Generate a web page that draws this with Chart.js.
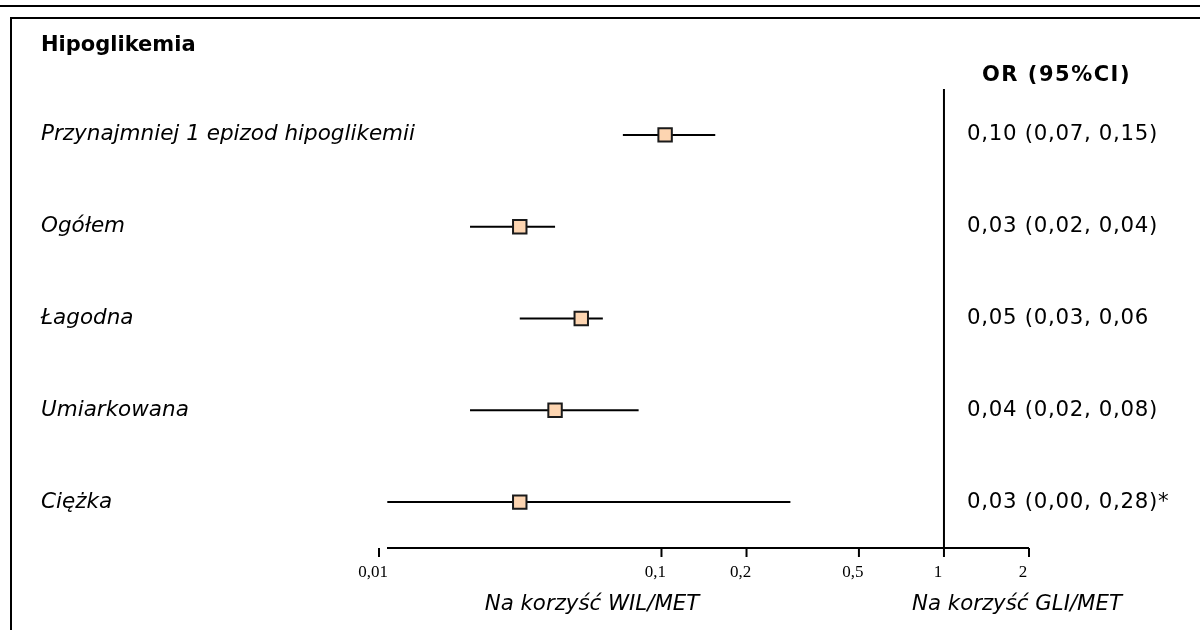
<!DOCTYPE html>
<html lang="pl">
<head>
<meta charset="utf-8"/>
<title>Hipoglikemia</title>
<script src="https://cdn.jsdelivr.net/npm/chart.js@4.4.0/dist/chart.umd.min.js"></script>
<style>
    * { margin: 0; padding: 0; box-sizing: border-box; }
    body { background: #FFFFFF; width: 1200px; height: 630px; overflow: hidden; }
    #forest { display: block; }
</style>
</head>
<body>
<canvas id="forest" width="1200" height="630"></canvas>
<script>
    // dane
    const categories = [
        "Przynajmniej 1 epizod hipoglikemii",
        "Ogółem",
        "Łagodna",
        "Umiarkowana",
        "Ciężka"
    ];
    const oddsRatio = [0.103, 0.0315, 0.052, 0.042, 0.0315];
    const lowerCI = [0.073, 0.021, 0.0315, 0.021, 0.0107];
    const upperCI = [0.155, 0.042, 0.062, 0.083, 0.286];
    const orLabels = [
        "0,10 (0,07, 0,15)",
        "0,03 (0,02, 0,04)",
        "0,05 (0,03, 0,06",
        "0,04 (0,02, 0,08)",
        "0,03 (0,00, 0,28)*"
    ];
    const tickValues = [0.01, 0.1, 0.2, 0.5, 1, 2];
    const tickLabels = ["0,01", "0,1", "0,2", "0,5", "1", "2"];

    const sansFont = "'DejaVu Sans', Verdana, sans-serif";
    const serifFont = "'Liberation Serif', 'Times New Roman', serif";

    // linie przedziałów ufności, pod kwadratami
    const ciLines = {
        id: "ciLines",
        beforeDatasetsDraw(chart) {
            const ctx = chart.ctx;
            const x = chart.scales.x;
            const y = chart.scales.y;
            ctx.save();
            ctx.strokeStyle = "#000000";
            ctx.lineWidth = 2;
            for (let i = 0; i < categories.length; i++) {
                const py = y.getPixelForValue(i);
                ctx.beginPath();
                ctx.moveTo(x.getPixelForValue(lowerCI[i]), py);
                ctx.lineTo(x.getPixelForValue(upperCI[i]), py);
                ctx.stroke();
            }
            ctx.restore();
        }
    };

    // ramka, teksty, oś logarytmiczna i linia OR = 1
    const decorations = {
        id: "decorations",
        afterDraw(chart) {
            const ctx = chart.ctx;
            const x = chart.scales.x;
            const y = chart.scales.y;
            const area = chart.chartArea;
            ctx.save();

            // ramka
            ctx.strokeStyle = "#000000";
            ctx.lineWidth = 2;
            ctx.beginPath();
            ctx.moveTo(0, 6);
            ctx.lineTo(1200, 6);
            ctx.moveTo(1200, 18);
            ctx.lineTo(11, 18);
            ctx.lineTo(11, 630);
            ctx.stroke();

            // linia pionowa przy OR = 1
            const x1 = x.getPixelForValue(1);
            ctx.beginPath();
            ctx.moveTo(x1, area.top);
            ctx.lineTo(x1, area.bottom);
            ctx.stroke();

            // oś x
            const xmin = x.getPixelForValue(tickValues[0]);
            const xmax = x.getPixelForValue(tickValues[tickValues.length - 1]);
            ctx.beginPath();
            ctx.moveTo(xmin + 8, area.bottom);
            ctx.lineTo(xmax, area.bottom);
            ctx.stroke();
            ctx.fillStyle = "#000000";
            ctx.font = "17px " + serifFont;
            ctx.textAlign = "center";
            ctx.textBaseline = "middle";
            tickValues.forEach((v, i) => {
                const px = x.getPixelForValue(v);
                ctx.beginPath();
                ctx.moveTo(px, area.bottom);
                ctx.lineTo(px, area.bottom + 9);
                ctx.stroke();
                ctx.fillText(tickLabels[i], px - 6, area.bottom + 25);
            });

            // tytuł i nagłówek kolumny
            ctx.textAlign = "left";
            ctx.font = "bold 21px " + sansFont;
            ctx.fillText("Hipoglikemia", 41, 46);
            ctx.letterSpacing = "1.5px";
            ctx.fillText("OR (95%CI)", 982, 76);

            // etykiety wierszy i wartości OR
            categories.forEach((c, i) => {
                const py = y.getPixelForValue(i);
                ctx.letterSpacing = "0px";
                ctx.font = "italic 21.5px " + sansFont;
                ctx.fillText(c, 41, py);
                ctx.letterSpacing = "0.7px";
                ctx.font = "21.3px " + sansFont;
                ctx.fillText(orLabels[i], 967, py);
            });

            // opisy pod osią
            ctx.letterSpacing = "0px";
            ctx.font = "italic 21.3px " + sansFont;
            ctx.textAlign = "center";
            ctx.fillText("Na korzyść WIL/MET", 592, 604);
            ctx.fillText("Na korzyść GLI/MET", 1017, 604);

            ctx.restore();
        }
    };

    const points = oddsRatio.map((v, i) => ({ x: v, y: i }));

    new Chart(document.getElementById("forest").getContext("2d"), {
        type: "scatter",
        data: {
            datasets: [{
                data: points,
                pointStyle: "rect",
                pointRadius: 9.5,
                pointHoverRadius: 9.5,
                backgroundColor: "#FDD5B1",
                borderColor: "#1A1A1A",
                borderWidth: 2
            }]
        },
        options: {
            responsive: false,
            animation: false,
            layout: {
                padding: { left: 379, right: 171, top: 89, bottom: 82 }
            },
            scales: {
                x: { type: "logarithmic", min: 0.01, max: 2, display: false },
                y: { type: "linear", min: -0.5, max: 4.5, reverse: true, display: false }
            },
            plugins: {
                legend: { display: false },
                tooltip: { enabled: false }
            }
        },
        plugins: [ciLines, decorations]
    });
</script>
</body>
</html>
